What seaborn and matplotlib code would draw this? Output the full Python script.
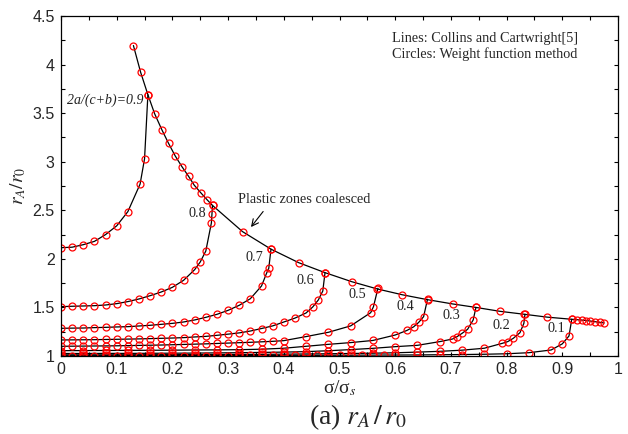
import numpy as np
import pandas as pd
import matplotlib
matplotlib.use("Agg")
import matplotlib.pyplot as plt
import seaborn as sns

# ---------------- data ----------------
r09_x = [0, 0.02, 0.04, 0.06, 0.08, 0.10, 0.12, 0.142, 0.150, 0.156]
r09_y = [2.115, 2.12, 2.146, 2.18, 2.25, 2.34, 2.486, 2.77, 3.03, 3.69]

r08_x = [0, 0.02, 0.04, 0.06, 0.08, 0.10, 0.12, 0.14, 0.16, 0.18, 0.20, 0.22, 0.24,
         0.25, 0.26, 0.270, 0.271, 0.272]
r08_y = [1.508, 1.512, 1.515, 1.518, 1.525, 1.539, 1.56, 1.587, 1.621, 1.659, 1.707,
         1.779, 1.889, 1.968, 2.081, 2.37, 2.46, 2.55]

r07_x = [0, 0.02, 0.04, 0.06, 0.08, 0.10, 0.12, 0.14, 0.16, 0.18, 0.20, 0.22, 0.24,
         0.26, 0.28, 0.30, 0.32, 0.34, 0.36, 0.369, 0.373, 0.377]
r07_y = [1.285, 1.287, 1.288, 1.292, 1.295, 1.299, 1.302, 1.309, 1.316, 1.326, 1.336,
         1.350, 1.371, 1.398, 1.429, 1.470, 1.522, 1.590, 1.721, 1.851, 1.903, 2.099]

r06_x = [0, 0.02, 0.04, 0.06, 0.08, 0.10, 0.12, 0.14, 0.16, 0.18, 0.20, 0.22, 0.24,
         0.26, 0.28, 0.30, 0.32, 0.34, 0.36, 0.38, 0.40, 0.42, 0.44,
         0.452, 0.462, 0.470, 0.474]
r06_y = [1.165, 1.166, 1.167, 1.168, 1.170, 1.172, 1.174, 1.176, 1.179, 1.182, 1.185,
         1.189, 1.196, 1.202, 1.213, 1.225, 1.238, 1.257, 1.283, 1.31, 1.35, 1.39, 1.443,
         1.505, 1.577, 1.669, 1.858]

r05_x = [0, 0.02, 0.04, 0.06, 0.08, 0.10, 0.12, 0.14, 0.16, 0.18, 0.20, 0.22, 0.24,
         0.26, 0.28, 0.30, 0.32, 0.34, 0.36, 0.38, 0.40,
         0.44, 0.48, 0.52, 0.556, 0.561, 0.569]
r05_y = [1.100, 1.101, 1.102, 1.103, 1.104, 1.105, 1.107, 1.109, 1.111, 1.113, 1.116,
         1.119, 1.122, 1.125, 1.129, 1.133, 1.137, 1.141, 1.146, 1.151, 1.158,
         1.20, 1.244, 1.31, 1.446, 1.508, 1.697]

r04_x = [0, 0.04, 0.08, 0.12, 0.16, 0.20, 0.24, 0.28, 0.32, 0.36, 0.40, 0.44, 0.48,
         0.52, 0.56, 0.60, 0.621, 0.633, 0.642, 0.651, 0.658]
r04_y = [1.055, 1.056, 1.057, 1.058, 1.059, 1.060, 1.062, 1.063, 1.065, 1.070, 1.080,
         1.100, 1.120, 1.138, 1.160, 1.216, 1.263, 1.300, 1.345, 1.405, 1.584]

r03_x = [0, 0.04, 0.08, 0.12, 0.16, 0.20, 0.24, 0.28, 0.32, 0.36, 0.40, 0.44, 0.48,
         0.52, 0.56, 0.60, 0.64, 0.68, 0.703, 0.711, 0.72, 0.73, 0.74, 0.745]
r03_y = [1.026, 1.026, 1.027, 1.027, 1.028, 1.029, 1.030, 1.032, 1.034, 1.037, 1.040,
         1.045, 1.054, 1.066, 1.079, 1.096, 1.110, 1.148, 1.175, 1.199, 1.233, 1.275,
         1.371, 1.50]

r02_x = [0, 0.04, 0.08, 0.12, 0.16, 0.20, 0.24, 0.28, 0.32, 0.36, 0.40, 0.44, 0.48,
         0.52, 0.56, 0.60, 0.64, 0.68, 0.72, 0.76, 0.792, 0.802, 0.812, 0.824, 0.831, 0.833]
r02_y = [1.012, 1.012, 1.012, 1.013, 1.013, 1.014, 1.014, 1.015, 1.016, 1.017, 1.019,
         1.021, 1.023, 1.026, 1.029, 1.033, 1.040, 1.048, 1.060, 1.080, 1.130, 1.148,
         1.182, 1.240, 1.336, 1.43]

r01_x = [0, 0.02, 0.04, 0.06, 0.08, 0.10, 0.12, 0.14, 0.16, 0.18, 0.20, 0.22, 0.24,
         0.26, 0.28, 0.30, 0.32, 0.34, 0.36, 0.38, 0.40, 0.42, 0.44, 0.46, 0.48, 0.50,
         0.52, 0.54, 0.56, 0.58, 0.60, 0.64, 0.68, 0.72, 0.76, 0.80, 0.84, 0.88, 0.90,
         0.912, 0.917]
r01_y = [1.003, 1.003, 1.003, 1.003, 1.003, 1.003, 1.004, 1.004, 1.004, 1.004, 1.004,
         1.004, 1.005, 1.005, 1.005, 1.005, 1.005, 1.006, 1.006, 1.006, 1.006, 1.007,
         1.007, 1.007, 1.008, 1.008, 1.008, 1.009, 1.009, 1.010, 1.010, 1.011, 1.013,
         1.015, 1.018, 1.023, 1.034, 1.062, 1.125, 1.206, 1.378]

env_x = [0.130, 0.143, 0.156, 0.168, 0.181, 0.193, 0.205, 0.217, 0.229, 0.239, 0.251,
         0.262, 0.272, 0.326, 0.377, 0.427, 0.474, 0.522, 0.568, 0.613, 0.658, 0.703,
         0.745, 0.788, 0.831, 0.873, 0.917, 0.926, 0.935, 0.943, 0.950, 0.959, 0.967, 0.975]
env_y = [4.196, 3.92, 3.69, 3.495, 3.33, 3.19, 3.06, 2.95, 2.85, 2.76, 2.68, 2.61, 2.55,
         2.28, 2.10, 1.96, 1.858, 1.765, 1.69, 1.63, 1.58, 1.536, 1.50, 1.46, 1.43, 1.40,
         1.378, 1.374, 1.37, 1.365, 1.36, 1.353, 1.347, 1.34]

ratio_labels = ["0.8", "0.7", "0.6", "0.5", "0.4", "0.3", "0.2", "0.1"]
ratio_label_x = [0.244, 0.3465, 0.4395, 0.532, 0.6176, 0.7014, 0.791, 0.890]
ratio_label_y = [2.462, 2.014, 1.778, 1.628, 1.508, 1.422, 1.319, 1.281]

x_ticks = [0, 0.1, 0.2, 0.3, 0.4, 0.5, 0.6, 0.7, 0.8, 0.9, 1]
x_tick_labels = ["0", "0.1", "0.2", "0.3", "0.4", "0.5", "0.6", "0.7", "0.8", "0.9", "1"]
y_ticks = [1, 1.5, 2, 2.5, 3, 3.5, 4, 4.5]
y_tick_labels = ["1", "1.5", "2", "2.5", "3", "3.5", "4", "4.5"]

# ---------------- build long table ----------------
series = {
    "0.9": (r09_x, r09_y), "0.8": (r08_x, r08_y), "0.7": (r07_x, r07_y),
    "0.6": (r06_x, r06_y), "0.5": (r05_x, r05_y), "0.4": (r04_x, r04_y),
    "0.3": (r03_x, r03_y), "0.2": (r02_x, r02_y), "0.1": (r01_x, r01_y),
    "env": (env_x, env_y),
}
frames = []
for name, (xs, ys) in series.items():
    frames.append(pd.DataFrame({"x": xs, "y": ys, "curve": name}))
df = pd.concat(frames, ignore_index=True)

# ---------------- plot ----------------
sns.set_theme(style="white")
plt.rcParams["font.family"] = ["Liberation Serif", "DejaVu Serif"]
plt.rcParams["mathtext.fontset"] = "stix"

fig = plt.figure(figsize=(6.28, 4.34), dpi=100)
ax = fig.add_axes([61 / 628, 1 - 356 / 434, 557 / 628, 340 / 434])

sns.lineplot(data=df, x="x", y="y", units="curve", estimator=None, sort=False,
             color="black", linewidth=0.9, ax=ax)
sns.lineplot(data=df, x="x", y="y", units="curve", estimator=None, sort=False,
             linestyle="", marker="o", markersize=5.0, markerfacecolor="none",
             markeredgecolor="#ff0000", markeredgewidth=0.9, color="#ff0000", ax=ax)

ax.set_xlim(0, 1)
ax.set_ylim(1, 4.5)
ax.set_xticks(x_ticks)
ax.set_xticklabels(x_tick_labels)
ax.set_yticks(y_ticks)
ax.set_yticklabels(y_tick_labels)
ax.set_xticks(np.arange(0.05, 1.0, 0.1), minor=True)
ax.set_yticks(np.arange(1.25, 4.5, 0.5), minor=True)
ax.tick_params(which="both", direction="in", length=3.2, width=0.8, color="black",
               top=True, right=True, bottom=True, left=True)
ax.tick_params(which="major", labelsize=11.5, pad=4.5)
for lab in ax.get_xticklabels() + ax.get_yticklabels():
    lab.set_family(["Liberation Sans", "DejaVu Sans"])
for sp in ax.spines.values():
    sp.set_color("black")
    sp.set_linewidth(0.9)

ax.set_xlabel("σ/σ$_{s}$", fontsize=14, labelpad=1)
ax.set_ylabel("$r_A/r_0$", fontsize=14, labelpad=3)

# annotations
for t, tx, ty in zip(ratio_labels, ratio_label_x, ratio_label_y):
    ax.text(tx, ty, t, fontsize=10.3, ha="center", va="center", color="#222222")
ax.text(0.0795, 3.636, "2a/(c+b)=0.9", fontsize=10, style="italic",
        ha="center", va="center", color="#222222")
ax.text(0.594, 4.272, "Lines: Collins and Cartwright[5]", fontsize=10.3,
        ha="left", va="center")
ax.text(0.594, 4.11, "Circles: Weight function method", fontsize=10.3,
        ha="left", va="center")
ax.text(0.317, 2.607, "Plastic zones coalesced", fontsize=10.3, ha="left", va="center")
ax.annotate("", xy=(0.338, 2.305), xytext=(0.366, 2.51),
            arrowprops=dict(arrowstyle="->", color="black", lw=0.8))

fig.text(358 / 628, 1 - 417 / 434, r"(a) $r_{A}\,/\,r_{0}$", fontsize=20, ha="center",
         va="center")

fig.savefig("out.png", dpi=100)
